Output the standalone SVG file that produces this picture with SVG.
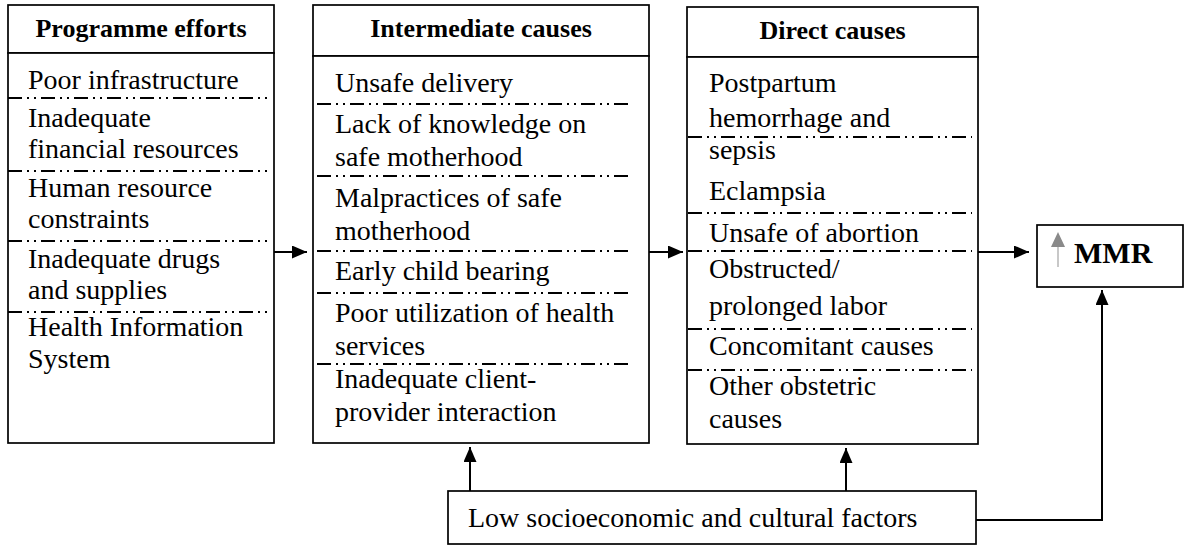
<svg xmlns="http://www.w3.org/2000/svg" width="1184" height="545" viewBox="0 0 1184 545">
<style>
.box{fill:#fff;stroke:#000;stroke-width:1.7}
.dash{stroke:#000;stroke-width:1.8;stroke-dasharray:14 5 2 5 2 5;fill:none}
.t{font-family:"Liberation Serif","Times New Roman",serif;font-size:28px;fill:#000}
.h{font-family:"Liberation Serif","Times New Roman",serif;font-size:26px;font-weight:bold;fill:#000;text-anchor:middle}
.c{stroke:#000;stroke-width:2;fill:none}
</style>
<defs>
<marker id="ah" markerUnits="userSpaceOnUse" markerWidth="15" markerHeight="13" refX="15" refY="6.5" orient="auto">
<path d="M0,0 L15,6.5 L0,13 z" fill="#000"/>
</marker>
</defs>
<g id="programme-efforts">
<rect class="box" x="8" y="5" width="266" height="48"/>
<rect class="box" x="8" y="53" width="266" height="390"/>
<text class="h" x="141" y="37">Programme efforts</text>
<text class="t" x="28" y="89">Poor infrastructure</text>
<line class="dash" x1="8" y1="98" x2="268" y2="98"/>
<text class="t" x="28" y="127">Inadequate</text>
<text class="t" x="28" y="158">financial resources</text>
<line class="dash" x1="8" y1="171" x2="268" y2="171"/>
<text class="t" x="28" y="197">Human resource</text>
<text class="t" x="28" y="228">constraints</text>
<line class="dash" x1="8" y1="241" x2="268" y2="241"/>
<text class="t" x="28" y="268">Inadequate drugs</text>
<text class="t" x="28" y="299">and supplies</text>
<line class="dash" x1="8" y1="312" x2="268" y2="312"/>
<text class="t" x="28" y="336">Health Information</text>
<text class="t" x="28" y="368">System</text>
</g>
<g id="intermediate-causes">
<rect class="box" x="313" y="5" width="336" height="51"/>
<rect class="box" x="313" y="56" width="336" height="387"/>
<text class="h" x="481" y="37">Intermediate causes</text>
<text class="t" x="335" y="92">Unsafe delivery</text>
<line class="dash" x1="317" y1="104" x2="630" y2="104"/>
<text class="t" x="335" y="133">Lack of knowledge on</text>
<text class="t" x="335" y="166">safe motherhood</text>
<line class="dash" x1="317" y1="176" x2="630" y2="176"/>
<text class="t" x="335" y="207">Malpractices of safe</text>
<text class="t" x="335" y="240">motherhood</text>
<line class="dash" x1="317" y1="251" x2="630" y2="251"/>
<text class="t" x="335" y="280">Early child bearing</text>
<line class="dash" x1="317" y1="293" x2="630" y2="293"/>
<text class="t" x="335" y="322">Poor utilization of health</text>
<text class="t" x="335" y="355">services</text>
<line class="dash" x1="317" y1="364" x2="630" y2="364"/>
<text class="t" x="335" y="388">Inadequate client-</text>
<text class="t" x="335" y="421">provider interaction</text>
</g>
<g id="direct-causes">
<rect class="box" x="687" y="7" width="291" height="50"/>
<rect class="box" x="687" y="57" width="291" height="387"/>
<text class="h" x="832.5" y="39">Direct causes</text>
<text class="t" x="709" y="92">Postpartum</text>
<text class="t" x="709" y="127">hemorrhage and</text>
<line class="dash" x1="688" y1="137" x2="972" y2="137"/>
<text class="t" x="709" y="159">sepsis</text>
<text class="t" x="709" y="200">Eclampsia</text>
<line class="dash" x1="688" y1="213" x2="972" y2="213"/>
<text class="t" x="709" y="242">Unsafe of abortion</text>
<line class="dash" x1="688" y1="251" x2="972" y2="251"/>
<text class="t" x="709" y="278">Obstructed/</text>
<text class="t" x="709" y="315">prolonged labor</text>
<line class="dash" x1="688" y1="329" x2="972" y2="329"/>
<text class="t" x="709" y="355">Concomitant causes</text>
<line class="dash" x1="688" y1="370" x2="972" y2="370"/>
<text class="t" x="709" y="395">Other obstetric</text>
<text class="t" x="709" y="428">causes</text>
</g>
<g id="mmr">
<rect class="box" x="1037" y="225" width="146" height="62"/>
<line x1="1058" y1="267" x2="1058" y2="246" stroke="#c8c8c8" stroke-width="2"/>
<polygon points="1051,247 1065,247 1058,232" fill="#8a8a8a"/>
<text x="1074" y="263" font-family="Liberation Serif,Times New Roman,serif" font-size="30" font-weight="bold">MMR</text>
</g>
<g id="socioeconomic">
<rect class="box" x="448" y="491" width="528" height="53"/>
<text class="t" x="468" y="527">Low socioeconomic and cultural factors</text>
</g>
<g id="connectors">
<line class="c" x1="274" y1="252" x2="307" y2="252" marker-end="url(#ah)"/>
<line class="c" x1="649" y1="252" x2="683" y2="252" marker-end="url(#ah)"/>
<line class="c" x1="978" y1="252" x2="1029" y2="252" marker-end="url(#ah)"/>
<line class="c" x1="470" y1="491" x2="470" y2="447" marker-end="url(#ah)"/>
<line class="c" x1="846" y1="491" x2="846" y2="448" marker-end="url(#ah)"/>
<polyline class="c" points="976,520 1102,520 1102,290" marker-end="url(#ah)"/>
</g>
</svg>
